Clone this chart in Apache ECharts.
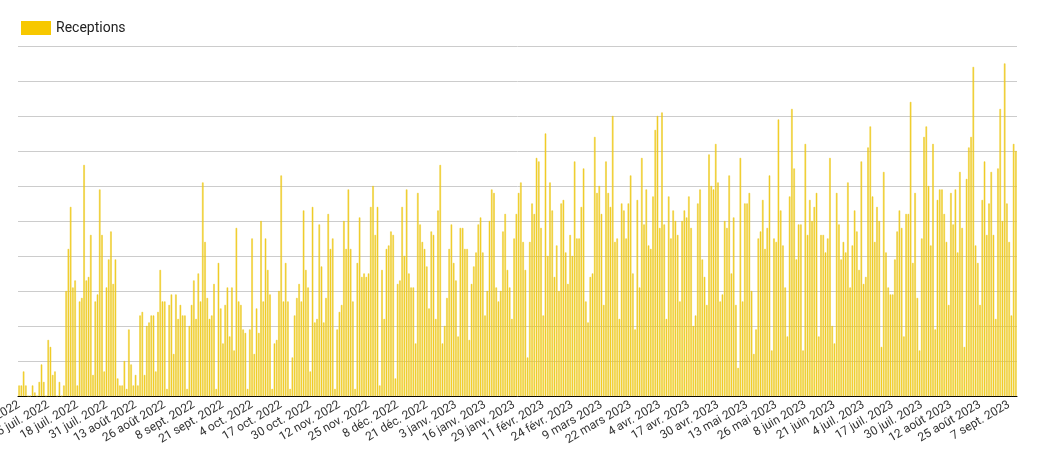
<!DOCTYPE html>
<html>
<head>
<meta charset="UTF-8">
<script src="https://cdn.jsdelivr.net/npm/echarts@6/dist/echarts.min.js"></script>
<style>
  body { margin: 0; background: #fff; }
  #main { width: 1037px; height: 454px; }
</style>
</head>
<body>
<div id="main"></div>
<script type="text/javascript">
// one value per day, starting 22 juin 2022 (13 days per line = one axis label)
var receptions = [
  3,3,7,3,0,0,3,1,0,4,9,4,0,
  16,14,6,7,0,4,0,3,30,42,54,31,33,
  3,27,28,66,33,34,46,6,27,29,59,46,7,
  31,39,47,32,39,5,3,3,10,2,19,9,3,
  6,3,23,24,6,20,21,23,23,7,24,36,27,
  27,2,26,29,12,29,22,26,23,23,2,20,26,
  33,22,35,27,61,44,28,22,23,32,2,38,25,
  15,26,31,17,31,13,48,27,26,19,18,2,19,
  45,12,25,18,50,27,45,36,29,2,15,16,30,
  63,27,38,27,2,11,23,28,32,27,53,36,31,
  7,54,21,22,49,37,21,28,52,42,45,2,19,
  24,26,50,42,59,42,27,2,38,51,34,35,34,
  35,54,60,46,54,3,36,22,42,43,47,46,5,
  32,33,54,40,59,35,31,31,15,58,49,44,42,
  37,25,47,46,22,53,66,15,20,28,42,49,38,
  33,17,48,48,42,42,16,32,37,41,49,51,41,
  23,30,50,59,58,31,27,30,47,52,36,31,22,
  45,52,58,61,44,36,11,44,55,52,68,67,48,
  23,75,40,61,53,34,43,30,55,56,41,32,46,
  40,67,45,45,54,65,27,21,34,35,74,58,60,
  52,26,67,58,54,80,44,45,22,55,53,45,55,
  63,35,19,56,31,68,49,59,43,42,57,76,80,
  48,81,49,22,57,45,53,50,46,27,50,53,51,
  57,48,20,23,55,59,39,34,26,69,60,59,72,
  61,27,29,50,48,63,35,51,26,8,68,27,55,
  55,58,30,12,19,45,47,56,42,48,63,13,45,
  44,79,53,43,31,17,57,82,65,39,49,49,13,
  72,46,56,50,54,58,17,46,46,41,45,68,20,
  15,58,49,39,44,41,61,31,43,53,47,36,67,
  32,34,71,77,57,44,54,50,14,64,41,31,29,
  29,39,47,53,48,17,52,52,84,38,58,28,13,
  45,74,77,60,43,72,19,56,59,59,52,44,26,
  58,49,59,41,64,48,14,62,71,74,94,43,38,
  26,56,67,46,55,64,46,22,65,82,50,95,55,
  44,23,72,70
];
var months = ['janv.','févr.','mars','avr.','mai','juin','juil.','août','sept.','oct.','nov.','déc.'];
var startDate = new Date(2022, 5, 22);

var days = [];
for (var i = 0; i < receptions.length; i++) {
  var d = new Date(startDate.getFullYear(), startDate.getMonth(), startDate.getDate() + i);
  days.push(d.getDate() + ' ' + months[d.getMonth()] + ' ' + d.getFullYear());
}

var myChart = echarts.init(document.getElementById('main'));
var option = {
  animation: false,
  legend: {
    left: 16, top: 16,
    itemWidth: 30, itemHeight: 14, itemGap: 8,
    textStyle: { fontFamily: 'Roboto', fontSize: 14, color: '#222' },
    data: [{ name: 'Receptions', icon: 'rect', itemStyle: { color: '#f7c800', borderWidth: 0 } }]
  },
  grid: { left: 18, right: 20, top: 46, bottom: 58, containLabel: false, outerBoundsMode: 'none' },
  xAxis: {
    type: 'category',
    data: days,
    axisLine: { lineStyle: { color: '#000' } },
    axisTick: { show: false },
    axisLabel: {
      interval: 12, rotate: 30, margin: 8, hideOverlap: false,
      fontFamily: 'Roboto', fontSize: 12, color: '#333',
      width: 80, overflow: 'truncate', ellipsis: '...'
    }
  },
  yAxis: {
    type: 'value', min: 0, max: 100, interval: 10,
    axisLabel: { show: false },
    splitLine: { lineStyle: { color: '#ccc' } }
  },
  series: [{
    name: 'Receptions',
    type: 'bar',
    data: receptions,
    barCategoryGap: '35%',
    itemStyle: { color: '#f5d33a', borderColor: '#e6c000', borderWidth: 0.4 }
  }]
};
myChart.setOption(option);
</script>
</body>
</html>
